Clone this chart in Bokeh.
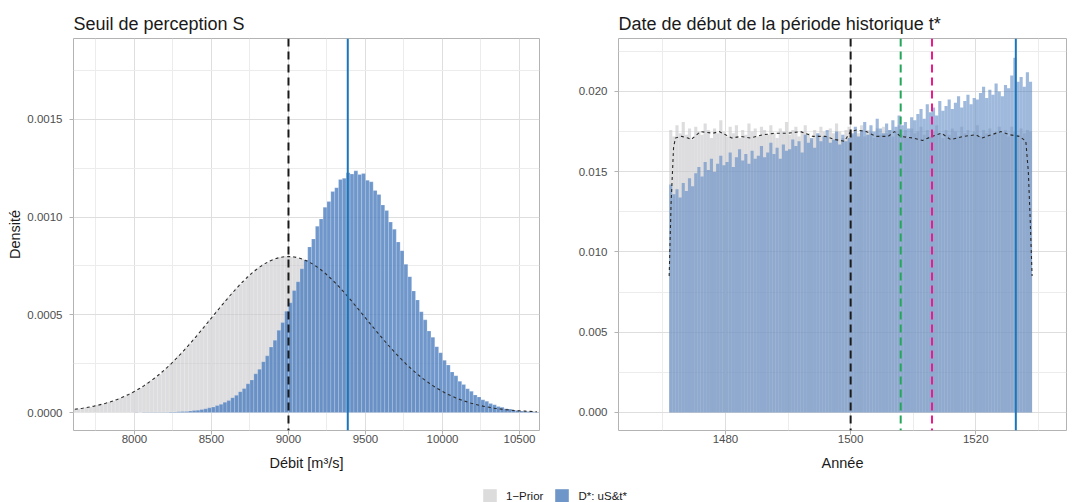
import numpy as np
from bokeh.plotting import figure
from bokeh.models import (Range1d, FixedTicker, NumeralTickFormatter, Span, Legend,
                          LegendItem, ColumnDataSource)
from bokeh.layouts import column, row
from bokeh.embed import file_html
from bokeh.resources import INLINE

# ---------------- data : panel 1 (Seuil de perception S) ----------------
S_BIN_START = 7600.0
S_BIN_WIDTH = 25.0
S_SCALE = 1e-4
s_prior_hist = [
    0.17, 0.20, 0.22, 0.26, 0.29, 0.33, 0.38, 0.42, 0.47, 0.54,
    0.60, 0.68, 0.74, 0.84, 0.92, 1.04, 1.13, 1.26, 1.37, 1.52,
    1.64, 1.81, 1.95, 2.14, 2.30, 2.51, 2.68, 2.90, 3.09, 3.33,
    3.53, 3.78, 3.99, 4.25, 4.46, 4.73, 4.94, 5.22, 5.43, 5.69,
    5.90, 6.15, 6.34, 6.58, 6.75, 6.97, 7.11, 7.31, 7.42, 7.59,
    7.67, 7.80, 7.84, 7.94, 7.95, 7.99, 7.96, 7.97, 7.90, 7.87,
    7.76, 7.70, 7.55, 7.45, 7.27, 7.14, 6.93, 6.78, 6.55, 6.36,
    6.12, 5.92, 5.66, 5.45, 5.19, 4.97, 4.70, 4.49, 4.22, 4.01,
    3.75, 3.55, 3.30, 3.11, 2.88, 2.70, 2.48, 2.32, 2.12, 1.97,
    1.79, 1.66, 1.50, 1.38, 1.24, 1.14, 1.02, 0.93, 0.83, 0.75,
    0.67, 0.60, 0.53, 0.48, 0.42, 0.37, 0.33, 0.29, 0.25, 0.22,
    0.20, 0.17, 0.15, 0.13, 0.11, 0.10, 0.08, 0.07, 0.06, 0.05, 0.04]
s_post_hist = [
    0, 0, 0, 0, 0, 0, 0, 0, 0, 0,
    0, 0, 0, 0, 0, 0, 0.01, 0.00, 0.02, 0.01,
    0.01, 0.02, 0.01, 0.02, 0.02, 0.03, 0.03, 0.04, 0.05, 0.06,
    0.08, 0.10, 0.12, 0.16, 0.19, 0.24, 0.28, 0.36, 0.42, 0.53,
    0.61, 0.76, 0.88, 1.07, 1.23, 1.47, 1.67, 1.98, 2.22, 2.60,
    2.90, 3.35, 3.70, 4.21, 4.60, 5.18, 5.61, 6.24, 6.69, 7.35,
    7.80, 8.47, 8.88, 9.53, 9.90, 10.50, 10.79, 11.31, 11.50, 11.92,
    11.98, 12.27, 12.20, 12.36, 12.18, 12.22, 11.88, 11.80, 11.36, 11.15,
    10.62, 10.33, 9.74, 9.38, 8.72, 8.28, 7.58, 6.95, 6.22, 5.76,
    5.16, 4.74, 4.17, 3.85, 3.37, 3.06, 2.67, 2.43, 2.08, 1.88,
    1.60, 1.44, 1.22, 1.09, 0.90, 0.80, 0.65, 0.58, 0.46, 0.40,
    0.31, 0.27, 0.20, 0.18, 0.13, 0.11, 0.08, 0.07, 0.05, 0.04, 0.03]
s_prior_density = [
    0.170, 0.195, 0.223, 0.255, 0.290, 0.329, 0.373, 0.422, 0.476, 0.535,
    0.600, 0.672, 0.749, 0.834, 0.927, 1.027, 1.135, 1.251, 1.376, 1.509,
    1.651, 1.802, 1.962, 2.131, 2.309, 2.494, 2.689, 2.892, 3.101, 3.317,
    3.540, 3.768, 4.002, 4.238, 4.478, 4.718, 4.960, 5.202, 5.441, 5.678,
    5.909, 6.134, 6.352, 6.565, 6.765, 6.951, 7.127, 7.290, 7.437, 7.569,
    7.683, 7.780, 7.858, 7.917, 7.957, 7.977, 7.977, 7.957, 7.917, 7.858,
    7.780, 7.683, 7.569, 7.437, 7.290, 7.127, 6.951, 6.765, 6.565, 6.352,
    6.134, 5.909, 5.678, 5.441, 5.202, 4.960, 4.718, 4.478, 4.238, 4.002,
    3.768, 3.540, 3.317, 3.101, 2.892, 2.689, 2.494, 2.309, 2.131, 1.962,
    1.802, 1.651, 1.509, 1.376, 1.251, 1.135, 1.027, 0.927, 0.834, 0.749,
    0.672, 0.600, 0.535, 0.476, 0.422, 0.373, 0.329, 0.290, 0.255, 0.223,
    0.195, 0.170, 0.148, 0.128, 0.111, 0.096, 0.082, 0.071, 0.060, 0.052, 0.044]
S_PRIOR_REF = 9000.0
S_POST_MAP = 9385.0
s_xticks = [8000, 8500, 9000, 9500, 10000, 10500]
s_xminor = [7750, 8250, 8750, 9250, 9750, 10250]
s_yticks = [0.0, 0.0005, 0.0010, 0.0015]
s_yminor = [0.00025, 0.00075, 0.00125, 0.00175]

# ---------------- data : panel 2 (t*) ----------------
T_BIN_START = 1471.0
T_BIN_WIDTH = 0.5
T_SCALE = 1e-3
t_prior_hist = [
    17.6, 17.2, 17.9, 17.4, 18.1, 17.3, 17.7, 17.0, 17.8, 17.5,
    17.3, 18.0, 17.6, 17.1, 17.7, 17.4, 18.2, 17.5, 17.2, 17.8,
    17.4, 17.9, 17.1, 17.6, 17.3, 18.0, 17.5, 17.7, 17.2, 17.8,
    17.6, 17.3, 17.9, 17.4, 17.1, 17.7, 17.5, 18.1, 17.3, 17.6,
    17.8, 17.2, 17.5, 17.9, 17.4, 17.0, 17.6, 17.3, 17.8, 17.5,
    17.2, 17.7, 17.4, 18.0, 17.5, 17.1, 17.6, 17.8, 17.3, 17.5,
    17.4, 17.9, 17.2, 17.6, 17.5, 17.1, 17.7, 17.3, 17.8, 17.4,
    17.6, 17.2, 17.5, 17.9, 17.3, 17.6, 17.1, 17.7, 17.4, 17.5,
    17.8, 17.3, 17.6, 17.2, 17.5, 17.9, 17.4, 17.1, 17.6, 17.3,
    17.7, 17.5, 17.2, 17.8, 17.4, 17.6, 17.3, 17.5, 17.9, 17.2,
    17.6, 17.4, 17.7, 17.3, 17.5, 17.8, 17.4, 17.6, 17.2, 17.8,
    17.5, 17.3, 17.7, 17.4, 17.6, 17.5]
t_post_hist = [
    14.2, 13.6, 13.9, 13.4, 14.3, 13.8, 14.6, 14.1,
    14.9, 15.3, 14.7, 15.6, 15.1, 15.8, 15.0, 15.5, 16.0, 15.4,
    15.6, 16.2, 15.3, 15.9, 16.4, 15.7, 16.1, 15.5, 16.3, 15.8,
    16.0, 16.6, 15.9, 16.2, 16.8, 16.1, 16.5, 15.8, 16.7, 16.3,
    16.4, 17.0, 16.6, 16.9, 16.2, 17.3, 16.8, 17.1, 16.5, 17.4,
    16.9, 17.2, 17.6, 16.8, 17.0, 17.5, 16.7, 17.3, 16.9, 17.1,
    17.4, 17.8, 17.2, 17.6, 18.1, 17.3, 17.9, 17.5, 18.3, 17.7,
    17.4, 18.0, 17.6, 18.2, 17.8, 18.5, 17.9, 18.1, 17.7, 18.4,
    18.2, 18.6, 18.9, 18.3, 19.2, 18.7, 19.0, 18.5, 19.4, 18.8,
    19.1, 19.5, 18.9, 19.3, 19.7, 19.0, 19.4, 19.8, 19.2, 19.6,
    19.5, 19.9, 20.3, 19.6, 20.1, 19.8, 20.5, 20.0, 19.7, 20.4,
    20.2, 21.0, 22.1, 20.6, 20.9, 20.3, 21.2, 20.6]
t_density_years = [1471.0, 1471.3, 1471.7, 1472.0, 1473.0, 1474.0, 1474.5, 1476.0,
                   1478.0, 1479.0, 1480.0, 1481.0, 1482.5, 1484.0, 1486.0, 1488.0,
                   1490.0, 1492.0, 1494.0, 1496.0, 1497.5, 1499.0, 1500.0, 1501.0,
                   1502.5, 1504.0, 1506.0, 1507.0, 1508.0, 1510.0, 1511.5, 1513.0,
                   1514.5, 1516.0, 1518.0, 1520.0, 1521.0, 1522.5, 1524.0, 1525.5,
                   1527.0, 1528.0, 1528.4, 1528.7, 1529.0]
t_density_values = [8.5, 13.0, 16.5, 17.1, 17.2, 17.1, 17.0, 17.5,
                    17.4, 17.5, 17.3, 17.1, 17.2, 17.1, 17.3, 17.4,
                    17.4, 17.5, 17.2, 17.2, 17.0, 16.9, 17.5, 17.6,
                    17.5, 17.2, 17.2, 17.5, 17.2, 17.1, 16.95, 17.2,
                    17.4, 17.0, 17.2, 17.3, 17.1, 17.3, 17.5, 17.3,
                    17.2, 16.9, 15.0, 12.0, 8.5]
t_ref_years = [1500.0, 1508.0, 1513.0]
t_ref_colors = ["#1a1a1a", "#25a55a", "#ec1a8c"]
T_POST_MAP = 1526.4
t_xticks = [1480, 1500, 1520]
t_xminor = [1470, 1490, 1510, 1530]
t_yticks = [0.0, 0.005, 0.010, 0.015, 0.020]
t_yminor = [0.0025, 0.0075, 0.0125, 0.0175, 0.0225]

legend_labels = ["1\u2212Prior", "D*: uS&t*"]

# ---------------- style ----------------
FONT = "Liberation Sans"
PRIOR_FILL = "#c6c6ca"
POST_FILL = "#4f80c0"
MAP_BLUE = "#1b75bb"
BORDER = "#b3b3b3"


def style(p, xt, xm, yt, ym, xfmt, yfmt, xlabel, ylabel):
    p.outline_line_color = BORDER
    p.outline_line_width = 1
    p.title.text_font = FONT
    p.title.text_font_size = "18px"
    p.title.text_font_style = "normal"
    p.title.text_color = "#1a1a1a"
    p.title.standoff = 10
    p.xaxis.ticker = FixedTicker(ticks=xt, minor_ticks=xm)
    p.yaxis.ticker = FixedTicker(ticks=yt, minor_ticks=ym)
    p.xgrid.ticker = FixedTicker(ticks=xt, minor_ticks=xm)
    p.ygrid.ticker = FixedTicker(ticks=yt, minor_ticks=ym)
    p.xaxis.formatter = NumeralTickFormatter(format=xfmt)
    p.yaxis.formatter = NumeralTickFormatter(format=yfmt)
    for ax in (p.xaxis, p.yaxis):
        ax.axis_line_color = None
        ax.major_tick_line_color = BORDER
        ax.major_tick_out = 4
        ax.major_tick_in = 0
        ax.minor_tick_line_color = None
        ax.major_label_text_font = FONT
        ax.major_label_text_font_size = "11.5px"
        ax.major_label_text_color = "#4d4d4d"
        ax.axis_label_text_font = FONT
        ax.axis_label_text_font_size = "14.5px"
        ax.axis_label_text_font_style = "normal"
        ax.axis_label_text_color = "#1a1a1a"
    p.xaxis.major_label_standoff = 0
    p.xaxis.axis_label_standoff = 9
    p.yaxis.major_label_standoff = 7
    p.yaxis.axis_label_standoff = 1
    p.xaxis.axis_label = xlabel
    if ylabel:
        p.yaxis.axis_label = ylabel
    for g in (p.xgrid, p.ygrid):
        g.grid_line_color = "#dedede"
        g.grid_line_width = 1
        g.minor_grid_line_color = "#ececec"
        g.minor_grid_line_width = 1


# ---------------- panel 1 ----------------
s_n = len(s_prior_hist)
s_left = S_BIN_START + S_BIN_WIDTH * np.arange(s_n)
s_src = ColumnDataSource(dict(
    left=s_left, right=s_left + S_BIN_WIDTH, mid=s_left + S_BIN_WIDTH / 2,
    prior=np.array(s_prior_hist) * S_SCALE,
    post=np.array(s_post_hist) * S_SCALE,
    dens=np.array(s_prior_density) * S_SCALE))

p1 = figure(width=560, height=480, output_backend="svg", toolbar_location=None,
            x_range=Range1d(7604, 10630), y_range=Range1d(-0.0000918, 0.001913),
            min_border_left=73, min_border_right=21, min_border_top=38, min_border_bottom=50,
            title="Seuil de perception S")
style(p1, s_xticks, s_xminor, s_yticks, s_yminor, "0", "0.0000", "Débit [m³/s]", "Densité")
p1.quad(left="left", right="right", bottom=0, top="prior", source=s_src,
        fill_color=PRIOR_FILL, fill_alpha=0.6, line_color="white", line_alpha=0.25, line_width=0.5)
p1.quad(left="left", right="right", bottom=0, top="post", source=s_src,
        fill_color=POST_FILL, fill_alpha=0.82, line_color="white", line_alpha=0.3, line_width=0.6)
p1.line(x="mid", y="dens", source=s_src, line_color="#2a2a2a", line_width=1.1, line_dash="3 3")
p1.add_layout(Span(location=S_PRIOR_REF, dimension="height", line_color="#1a1a1a",
                   line_width=2, line_dash="8 5"))
p1.add_layout(Span(location=S_POST_MAP, dimension="height", line_color=MAP_BLUE, line_width=2))

# ---------------- panel 2 ----------------
t_n = len(t_prior_hist)
t_left = T_BIN_START + T_BIN_WIDTH * np.arange(t_n)
t_src = ColumnDataSource(dict(
    left=t_left, right=t_left + T_BIN_WIDTH,
    prior=np.array(t_prior_hist) * T_SCALE,
    post=np.array(t_post_hist) * T_SCALE))
t_dsrc = ColumnDataSource(dict(x=t_density_years, y=np.array(t_density_values) * T_SCALE))

p2 = figure(width=513, height=480, output_backend="svg", toolbar_location=None,
            x_range=Range1d(1462.9, 1534.5), y_range=Range1d(-0.001125, 0.0233),
            min_border_left=58, min_border_right=7, min_border_top=38, min_border_bottom=50,
            title="Date de début de la période historique t*")
style(p2, t_xticks, t_xminor, t_yticks, t_yminor, "0", "0.000", "Année", None)
p2.quad(left="left", right="right", bottom=0, top="prior", source=t_src,
        fill_color=PRIOR_FILL, fill_alpha=0.6, line_color=None)
p2.quad(left="left", right="right", bottom=0, top="post", source=t_src,
        fill_color=POST_FILL, fill_alpha=0.55, line_color=None)
p2.line(x="x", y="y", source=t_dsrc, line_color="#2a2a2a", line_width=1.1, line_dash="3 3")
for yr, col in zip(t_ref_years, t_ref_colors):
    p2.add_layout(Span(location=yr, dimension="height", line_color=col,
                       line_width=2, line_dash="8 5"))
p2.add_layout(Span(location=T_POST_MAP, dimension="height", line_color=MAP_BLUE, line_width=2))

# ---------------- legend strip ----------------
leg = figure(width=1073, height=22, output_backend="svg", toolbar_location=None,
             x_range=Range1d(0, 1), y_range=Range1d(0, 1),
             x_axis_location=None, y_axis_location=None,
             min_border=0, outline_line_color=None)
leg.xgrid.visible = False
leg.ygrid.visible = False
offscreen = ColumnDataSource(dict(left=[2.0], right=[3.0], top=[3.0], bottom=[2.0]))
r_a = leg.quad(left="left", right="right", top="top", bottom="bottom", source=offscreen,
               fill_color="#dcdcdd", line_color=None)
r_b = leg.quad(left="left", right="right", top="top", bottom="bottom", source=offscreen,
               fill_color="#6e96c9", line_color=None)
legend = Legend(items=[LegendItem(label=legend_labels[0], renderers=[r_a]),
                       LegendItem(label=legend_labels[1], renderers=[r_b])],
                orientation="horizontal", location=(481, -2),
                glyph_width=17, glyph_height=17, label_standoff=8, spacing=10,
                padding=0, margin=0, border_line_color=None, background_fill_alpha=0,
                label_text_font=FONT, label_text_font_size="11.5px", label_text_color="#1a1a1a")
leg.add_layout(legend, "center")

layout = column(row(p1, p2), leg)
open("out.html", "w").write(file_html(layout, INLINE))
